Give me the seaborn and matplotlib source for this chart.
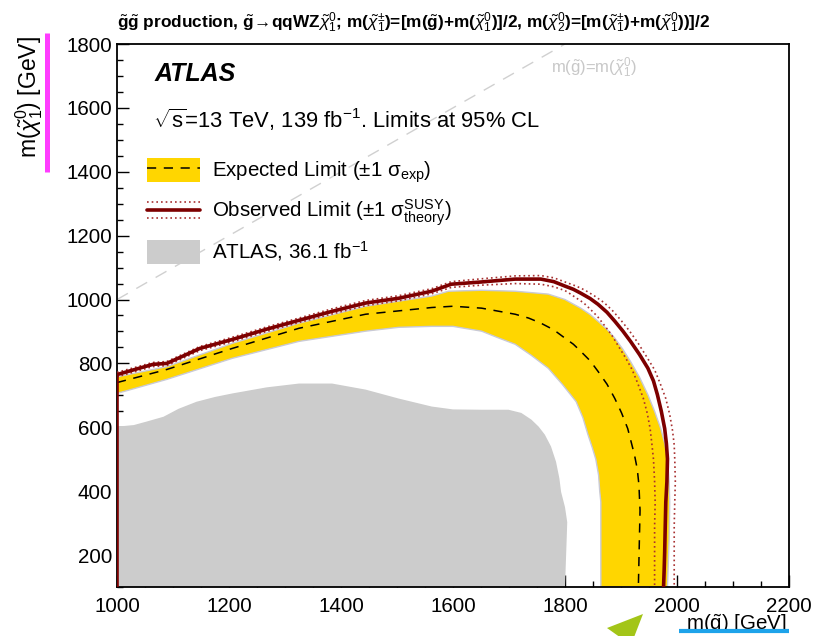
import numpy as np
import pandas as pd
import matplotlib
matplotlib.use("Agg")
import matplotlib.pyplot as plt
import seaborn as sns
from matplotlib.lines import Line2D
from matplotlib.patches import Patch, Polygon
from matplotlib.legend_handler import HandlerBase, HandlerTuple
from matplotlib.ticker import MultipleLocator

# ---------------- data ----------------
# Observed limit (solid dark red)
obs_x = [1000, 1000, 1064, 1089, 1148, 1206, 1267, 1325, 1384, 1444, 1503, 1562, 1597, 1651, 1711,
         1757, 1780, 1800, 1815, 1828, 1845, 1859, 1875, 1889, 1903, 1917, 1933, 1948, 1958, 1965,
         1972, 1978, 1981, 1983, 1982, 1980, 1979, 1978, 1977, 1976]
obs_y = [100, 765, 797, 800, 847, 875, 907, 935, 963, 989, 1004, 1026, 1048, 1055, 1064,
         1064, 1056, 1042, 1032, 1020, 1003, 985, 960, 932, 902, 869, 828, 785, 745, 702,
         650, 596, 550, 501, 430, 366, 290, 209, 150, 100]
# Observed +1 sigma theory (outer dotted)
obs_up_x = [1000, 1064, 1089, 1148, 1206, 1267, 1325, 1384, 1444, 1503, 1562, 1597, 1651, 1711,
            1757, 1780, 1800, 1820, 1835, 1852, 1870, 1885, 1900, 1915, 1930, 1945, 1960, 1970,
            1980, 1987, 1992, 1995, 1996, 1997, 1996, 1995, 1995, 1995]
obs_up_y = [772, 803, 806, 853, 882, 914, 942, 971, 997, 1012, 1034, 1056, 1065, 1074,
            1075, 1068, 1055, 1042, 1030, 1012, 990, 965, 935, 902, 865, 823, 780, 737,
            690, 640, 590, 545, 500, 430, 366, 290, 209, 100]
# Observed -1 sigma theory (inner dotted)
obs_dn_x = [1000, 1064, 1089, 1148, 1206, 1267, 1325, 1384, 1444, 1503, 1562, 1597, 1651, 1711,
            1757, 1780, 1800, 1810, 1820, 1833, 1845, 1858, 1870, 1883, 1895, 1908, 1920, 1930,
            1940, 1947, 1952, 1955, 1958, 1960, 1961, 1960, 1960, 1960]
obs_dn_y = [758, 790, 793, 840, 868, 900, 928, 955, 981, 996, 1018, 1038, 1045, 1050,
            1048, 1040, 1028, 1017, 1005, 990, 970, 947, 920, 890, 855, 818, 780, 737,
            690, 643, 596, 550, 500, 430, 366, 290, 209, 100]
# Expected limit (dashed)
exp_x = [1000, 1089, 1206, 1325, 1444, 1562, 1600, 1651, 1711, 1735, 1757, 1780, 1800, 1815,
         1828, 1845, 1859, 1875, 1889, 1901, 1912, 1918, 1924, 1929, 1932, 1934, 1933, 1932, 1931]
exp_y = [740, 781, 847, 910, 954, 975, 979, 973, 954, 942, 926, 905, 879, 860,
         838, 808, 775, 735, 690, 645, 596, 555, 514, 470, 420, 340, 262, 180, 100]
# Expected +/- 1 sigma band edges
band_up_x = [1000, 1089, 1206, 1325, 1444, 1562, 1592, 1651, 1711, 1770, 1800, 1828, 1845, 1859,
             1875, 1889, 1903, 1917, 1933, 1948, 1960, 1971, 1978, 1983, 1986, 1987, 1986, 1983]
band_up_y = [758, 790, 863, 926, 979, 1011, 1026, 1029, 1026, 1017, 1000, 973, 953, 932,
             907, 879, 845, 806, 757, 702, 650, 596, 550, 501, 430, 366, 250, 100]
band_dn_x = [1000, 1089, 1206, 1325, 1444, 1503, 1562, 1600, 1651, 1681, 1711, 1740, 1770, 1795,
             1820, 1832, 1841, 1849, 1855, 1860, 1862, 1864, 1864, 1864]
band_dn_y = [706, 750, 816, 869, 901, 913, 916, 916, 901, 880, 860, 825, 785, 735,
             680, 630, 577, 535, 500, 450, 400, 366, 250, 100]
# ATLAS 36.1 fb-1 excluded region (grey)
old_x = [1000, 1000, 1030, 1053, 1083, 1110, 1142, 1175, 1206, 1267, 1325, 1384, 1444, 1503,
         1562, 1600, 1650, 1699, 1722, 1740, 1753, 1764, 1775, 1784, 1790, 1793, 1800, 1804,
         1803, 1802, 1801, 1800]
old_y = [100, 602, 607, 618, 633, 658, 680, 695, 706, 725, 737, 737, 718, 690,
         665, 656, 655, 655, 645, 624, 602, 577, 540, 492, 440, 398, 350, 303,
         250, 200, 150, 100]
# kinematic diagonal m(gluino)=m(neutralino)
diag_x = [1000, 1800]
diag_y = [1000, 1800]

x_ticks = [1000, 1200, 1400, 1600, 1800, 2000, 2200]
y_ticks = [200, 400, 600, 800, 1000, 1200, 1400, 1600, 1800]

# ---------------- style ----------------
sns.set_theme(style="white")
plt.rcParams["font.family"] = ["Liberation Sans", "DejaVu Sans"]
plt.rcParams["mathtext.fontset"] = "custom"
plt.rcParams["mathtext.rm"] = "Liberation Sans"
plt.rcParams["mathtext.it"] = "Liberation Sans:italic"
plt.rcParams["mathtext.bf"] = "Liberation Sans:bold"
plt.rcParams["mathtext.sf"] = "Liberation Sans"

FS = 14.8
YELLOW = "#FFD600"
DRED = "#7d0000"
DOT = "#a83030"
GREY = "#cccccc"

fig = plt.figure(figsize=(8.17, 6.36), dpi=100)
W, H = 817, 636
L, R, T, B = 117, 789, 44, 587
ax = fig.add_axes([L / W, 1 - B / H, (R - L) / W, (B - T) / H])
px_per_gev_x = (R - L) / 1200.0
px_per_gev_y = (B - T) / 1700.0


def dx(px):
    return 1000 + (px - L) / px_per_gev_x


def dy(py):
    return 1800 - (py - T) / px_per_gev_y


# grey old result
ax.add_patch(Polygon(np.column_stack([old_x, old_y]), closed=True, facecolor=GREY,
                     edgecolor="none", zorder=1))
# yellow band
band = np.column_stack([band_up_x + band_dn_x[::-1], band_up_y + band_dn_y[::-1]])
ax.add_patch(Polygon(band, closed=True, facecolor=YELLOW, edgecolor="#c9cad6",
                     linewidth=1.0, zorder=2))

df_exp = pd.DataFrame({"x": exp_x, "y": exp_y})
df_obs = pd.DataFrame({"x": obs_x, "y": obs_y})
df_up = pd.DataFrame({"x": obs_up_x, "y": obs_up_y})
df_dn = pd.DataFrame({"x": obs_dn_x, "y": obs_dn_y})
df_diag = pd.DataFrame({"x": diag_x, "y": diag_y})

sns.lineplot(data=df_diag, x="x", y="y", sort=False, estimator=None, ax=ax,
             color="#d0d0d0", linewidth=1.0, linestyle=(0, (9, 7)), zorder=1.5)
sns.lineplot(data=df_exp, x="x", y="y", sort=False, estimator=None, ax=ax,
             color="black", linewidth=1.1, linestyle=(0, (6, 5)), zorder=4)
sns.lineplot(data=df_up, x="x", y="y", sort=False, estimator=None, ax=ax,
             color=DOT, linewidth=1.2, linestyle=(0, (1, 1.8)), zorder=4)
sns.lineplot(data=df_dn, x="x", y="y", sort=False, estimator=None, ax=ax,
             color=DOT, linewidth=1.2, linestyle=(0, (1, 1.8)), zorder=4)
sns.lineplot(data=df_obs, x="x", y="y", sort=False, estimator=None, ax=ax,
             color=DRED, linewidth=2.6, zorder=5)

ax.set_xlim(1000, 2200)
ax.set_ylim(100, 1800)
ax.set_xticks(x_ticks)
ax.set_yticks(y_ticks)
ax.set_xticklabels([str(v) for v in x_ticks])
ax.set_yticklabels([str(v) for v in y_ticks])
ax.xaxis.set_minor_locator(MultipleLocator(50))
ax.yaxis.set_minor_locator(MultipleLocator(50))
ax.tick_params(which="both", direction="in", top=False, right=False, bottom=True, left=True,
               color="black", width=1.0)
ax.tick_params(which="major", length=8.5)
ax.tick_params(which="minor", length=4.3)
ax.tick_params(axis="x", which="major", pad=7, labelsize=FS, labelcolor="black")
ax.tick_params(axis="y", which="major", pad=3.5, labelsize=FS, labelcolor="black")
for s in ax.spines.values():
    s.set_color("black")
    s.set_linewidth(1.3)
ax.set_facecolor("white")

ax.set_xlabel(r"m($\tilde{\mathrm{g}}$) [GeV]", fontsize=FS, loc="right", color="black")
ax.xaxis.set_label_coords((787 - L) / (R - L), -(630 - B) / (B - T))
ax.xaxis.label.set_va("baseline")
ax.set_ylabel(r"m($\tilde{\chi}^{0}_{1}$) [GeV]", fontsize=16.5, loc="top", color="black")
ax.yaxis.set_label_coords(-(L - 29) / (R - L), 1 + (T - 36) / (B - T))
ax.yaxis.label.set_va("center")

# texts
ax.text(dx(155), dy(81), "ATLAS", fontsize=18, fontweight="bold",
        fontstyle="italic", color="black", ha="left", va="baseline")
ax.text(dx(153), dy(128), r"$\sqrt{\mathrm{s}}$=13 TeV, 139 fb$^{\mathrm{-1}}$. Limits at 95% CL",
        fontsize=15.8, color="black", ha="left", va="baseline")
ax.text(dx(551), dy(68), r"m($\tilde{\mathrm{g}}$)=m($\tilde{\chi}^{0}_{1}$)", fontsize=12,
        color="#c8c8c8", ha="left", va="center")

fig.text(L / W, 1 - 28 / H,
         r"$\tilde{\mathbf{g}}\tilde{\mathbf{g}}$ production, $\tilde{\mathbf{g}}\!\rightarrow\!$qqWZ$\tilde{\chi}^{0}_{1}$; "
         r"m($\tilde{\chi}^{\pm}_{1}$)=[m($\tilde{\mathbf{g}}$)+m($\tilde{\chi}^{0}_{1}$)]/2, "
         r"m($\tilde{\chi}^{0}_{2}$)=[m($\tilde{\chi}^{\pm}_{1}$)+m($\tilde{\chi}^{0}_{1}$))]/2",
         fontsize=12.4, fontweight="bold", color="black", ha="left", va="baseline")


# legend
class ObsHandler(HandlerBase):
    def create_artists(self, legend, orig_handle, xdescent, ydescent, width, height,
                       fontsize, trans):
        yc = height / 2 - ydescent
        arts = []
        for off, ls, lw, c in [(0.33, (0, (1, 1.8)), 1.2, DOT), (0, "-", 2.6, DRED),
                               (-0.33, (0, (1, 1.8)), 1.2, DOT)]:
            ln = Line2D([-xdescent, -xdescent + width], [yc + off * height] * 2,
                        color=c, linestyle=ls, linewidth=lw, transform=trans)
            arts.append(ln)
        return arts


h_exp = (Patch(facecolor=YELLOW, edgecolor="none"),
         Line2D([], [], color="black", linestyle=(0, (6, 5)), linewidth=1.1))
h_obs = object()
h_old = Patch(facecolor=GREY, edgecolor="none")
leg = ax.legend([h_exp, h_obs, h_old],
                [r"Expected Limit ($\pm$1 $\mathrm{\sigma}_{\mathrm{exp}}$)",
                 r"Observed Limit ($\pm$1 $\mathrm{\sigma}^{\mathrm{SUSY}}_{\mathrm{theory}}$)",
                 r"ATLAS, 36.1 fb$^{\mathrm{-1}}$"],
                handler_map={tuple: HandlerTuple(ndivide=1), h_obs.__class__: ObsHandler()},
                loc="upper left", bbox_to_anchor=((147 - L) / (R - L), 1 - (158 - T) / (B - T)),
                frameon=False, fontsize=FS, handlelength=2.6, handleheight=1.45,
                handletextpad=0.55, labelspacing=0.57, borderpad=0, borderaxespad=0)
for t in leg.get_texts():
    t.set_color("black")

# annotation marks present on the reference image
fig.add_artist(Line2D([47 / W, 47 / W], [1 - 33 / H, 1 - 172 / H], transform=fig.transFigure,
                      color="#ff3cff", linewidth=3.6, solid_capstyle="butt"))
fig.add_artist(Line2D([679 / W, 789 / W], [1 - 631 / H, 1 - 631 / H], transform=fig.transFigure,
                      color="#1ea3ea", linewidth=3.0, solid_capstyle="butt"))
tri = np.array([[607, 628], [643, 614], [631, 645]], dtype=float)
tri[:, 0] /= W
tri[:, 1] = 1 - tri[:, 1] / H
fig.add_artist(Polygon(tri, closed=True, transform=fig.transFigure, facecolor="#a3c518",
                       edgecolor="none"))

fig.savefig("out.png", dpi=100)
